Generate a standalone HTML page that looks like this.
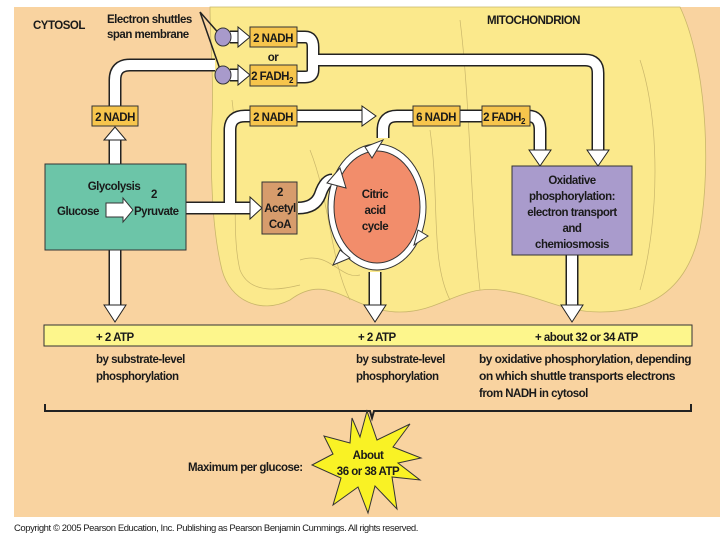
<!DOCTYPE html>
<html><head><meta charset="utf-8"><style>
html,body{margin:0;padding:0;background:#fff;}
svg{display:block;}
text{font-family:"Liberation Sans",sans-serif;font-weight:bold;font-size:11.5px;letter-spacing:-0.5px;fill:#1a1a1a;}
.n{font-weight:normal;font-size:9px;letter-spacing:-0.4px;}
</style></head><body>
<svg width="720" height="540" viewBox="0 0 720 540" xmlns="http://www.w3.org/2000/svg">
<rect x="0" y="0" width="720" height="540" fill="#fff"/>
<rect x="14" y="7" width="706" height="510" fill="#f9d3a0"/>
<path d="M210 7 L680 7 C705 60 712 160 700 230 C690 280 660 312 600 312 C560 312 540 295 500 290 C460 285 440 312 400 312 C350 312 330 270 290 300 C260 315 230 300 222 270 C212 230 210 170 212 120 C214 80 210 40 210 7 Z" fill="#fbe98c" stroke="#c9b66a" stroke-width="0.8"/>
<g fill="none" stroke="#c9b66a" stroke-width="0.7">
<path d="M232 100 C240 160 230 230 240 270 C250 295 280 290 300 285"/>
<path d="M310 150 C330 200 330 260 350 300"/>
<path d="M430 130 C440 200 430 260 450 300"/>
<path d="M460 20 C470 100 470 200 480 290"/>
<path d="M640 60 C660 120 660 220 640 290"/>
<path d="M300 260 C330 250 340 280 360 275"/>
</g>
<g stroke-linejoin="round" stroke-linecap="butt" fill="none">
<g stroke="#222" stroke-width="13">
<path d="M115 250 V140"/>
<path d="M115 106 V80 Q115 65 130 65 H215"/>
<path d="M297 37 H305 Q313 37 313 47 V70 Q313 77 305 77 H297"/>
<path d="M313 60 H585 Q598 60 598 73 V150"/>
<path d="M186 208 H250"/>
<path d="M230 208 V130 Q230 116 245 116 H362"/>
<path d="M298 208 Q315 208 320 195 Q325 180 332 180"/>
<path d="M383 138 V130 Q383 116 397 116 H528 Q540 116 540 130 V150"/>
<path d="M375 272 V305"/>
<path d="M572 255 V305"/>
<path d="M115 250 V305"/>
<path d="M230 37 H240"/><path d="M230 75 H240"/>
</g>
<g stroke="#fff" stroke-width="10">
<path d="M115 250 V140"/>
<path d="M115 106 V80 Q115 65 130 65 H215"/>
<path d="M297 37 H305 Q313 37 313 47 V70 Q313 77 305 77 H297"/>
<path d="M313 60 H585 Q598 60 598 73 V150"/>
<path d="M186 208 H250"/>
<path d="M230 208 V130 Q230 116 245 116 H362"/>
<path d="M298 208 Q315 208 320 195 Q325 180 332 180"/>
<path d="M383 138 V130 Q383 116 397 116 H528 Q540 116 540 130 V150"/>
<path d="M375 272 V305"/>
<path d="M572 255 V305"/>
<path d="M115 250 V305"/>
<path d="M230 37 H240"/><path d="M230 75 H240"/>
</g>
</g>
<g fill="#fff" stroke="#222" stroke-width="1">
<path d="M104 140 L115 127 L126 140 Z"/>
<path d="M250 197 L262 208 L250 219 Z"/>
<path d="M362 106 L376 116 L362 126 Z"/>
<path d="M587 150 L598 166 L609 150 Z"/>
<path d="M529 150 L540 166 L551 150 Z"/>
<path d="M364 305 L375 322 L386 305 Z"/>
<path d="M561 305 L572 322 L583 305 Z"/>
<path d="M104 305 L115 322 L126 305 Z"/>
<path d="M238 27 L250 37 L238 47 Z"/>
<path d="M238 65 L250 75 L238 85 Z"/>
</g>
<path d="M200 12 L222 37 M200 12 L222 75" stroke="#222" stroke-width="1.5"/>
<ellipse cx="223" cy="37" rx="8" ry="9" fill="#a89acb" stroke="#333"/>
<ellipse cx="223" cy="75" rx="8" ry="9" fill="#a89acb" stroke="#333"/>
<g stroke="#333" stroke-width="1">
<rect x="250" y="27" width="47" height="20" fill="#f7c54c"/>
<rect x="250" y="65" width="47" height="21" fill="#f7c54c"/>
<rect x="92" y="106" width="46" height="20" fill="#f7c54c"/>
<rect x="250" y="106" width="47" height="20" fill="#f7c54c"/>
<rect x="413" y="106" width="47" height="20" fill="#f7c54c"/>
<rect x="482" y="106" width="48" height="20" fill="#f7c54c"/>
<rect x="45" y="164" width="141" height="86" fill="#6cc5a8"/>
<rect x="262" y="182" width="35" height="52" fill="#d79c6c"/>
<rect x="512" y="166" width="120" height="89" fill="#a99bcc"/>
</g>
<ellipse cx="377" cy="207" rx="49" ry="63" fill="#fff" stroke="#333"/>
<ellipse cx="377" cy="207" rx="43" ry="56" fill="#f28d6b" stroke="#333"/>
<g fill="#fff" stroke="#333"><path d="M327 183 L340 168 L346 188 Z"/><path d="M365 147 L383 140 L372 158 Z"/><path d="M418 230 L428 236 L414 245 Z"/><path d="M340 250 L333 265 L350 258 Z"/></g>
<path d="M106 203 H123 V198 L133 210 L123 222 V217 H106 Z" fill="#fff" stroke="#333"/>
<rect x="44" y="325" width="648" height="21" fill="#fdf68c" stroke="#333"/>
<path d="M45 404 V411 H370 L372 418 L374 411 H691 V404" fill="none" stroke="#222" stroke-width="2"/>
<polygon fill="#f9f225" stroke="#333" points="367,411 377,440 410,424 393,447 421,458 398,463 420,480 392,477 397,509 375,486 368,513 358,487 333,505 341,478 312,465 333,454 324,436 350,443 352,418 360,437" />
<text x="33" y="29">CYTOSOL</text>
<text x="107" y="23">Electron shuttles</text>
<text x="107" y="38">span membrane</text>
<text x="487" y="24">MITOCHONDRION</text>
<text x="273" y="42" text-anchor="middle">2 NADH</text>
<text x="273" y="61" text-anchor="middle">or</text>
<text x="272" y="80" text-anchor="middle">2 FADH<tspan font-size="8" dy="3">2</tspan></text>
<text x="115" y="121" text-anchor="middle">2 NADH</text>
<text x="273" y="121" text-anchor="middle">2 NADH</text>
<text x="436" y="121" text-anchor="middle">6 NADH</text>
<text x="504" y="121" text-anchor="middle">2 FADH<tspan font-size="8" dy="3">2</tspan></text>
<text x="114" y="190" text-anchor="middle">Glycolysis</text>
<text x="154" y="198" text-anchor="middle">2</text>
<text x="57" y="215">Glucose</text>
<text x="134" y="215">Pyruvate</text>
<text x="280" y="196" text-anchor="middle">2</text>
<text x="280" y="212" text-anchor="middle" font-size="11">Acetyl</text>
<text x="280" y="228" text-anchor="middle">CoA</text>
<text x="375" y="198" text-anchor="middle">Citric</text>
<text x="375" y="214" text-anchor="middle">acid</text>
<text x="375" y="230" text-anchor="middle">cycle</text>
<text x="572" y="184" text-anchor="middle">Oxidative</text>
<text x="572" y="200" text-anchor="middle">phosphorylation:</text>
<text x="572" y="216" text-anchor="middle">electron transport</text>
<text x="572" y="232" text-anchor="middle">and</text>
<text x="572" y="248" text-anchor="middle">chemiosmosis</text>
<text x="96" y="341">+ 2 ATP</text>
<text x="358" y="341">+ 2 ATP</text>
<text x="535" y="341">+ about 32 or 34 ATP</text>
<text x="96" y="363">by substrate-level</text>
<text x="96" y="380">phosphorylation</text>
<text x="356" y="363">by substrate-level</text>
<text x="356" y="380">phosphorylation</text>
<text x="479" y="363" textLength="212" lengthAdjust="spacingAndGlyphs">by oxidative phosphorylation, depending</text>
<text x="479" y="380" textLength="196" lengthAdjust="spacingAndGlyphs">on which shuttle transports electrons</text>
<text x="479" y="397">from NADH in cytosol</text>
<text x="188" y="471">Maximum per glucose:</text>
<text x="368" y="459" text-anchor="middle">About</text>
<text x="368" y="475" text-anchor="middle">36 or 38 ATP</text>
<text class="n" x="14" y="531" textLength="404" lengthAdjust="spacingAndGlyphs">Copyright © 2005 Pearson Education, Inc. Publishing as Pearson Benjamin Cummings. All rights reserved.</text>
</svg>
</body></html>
